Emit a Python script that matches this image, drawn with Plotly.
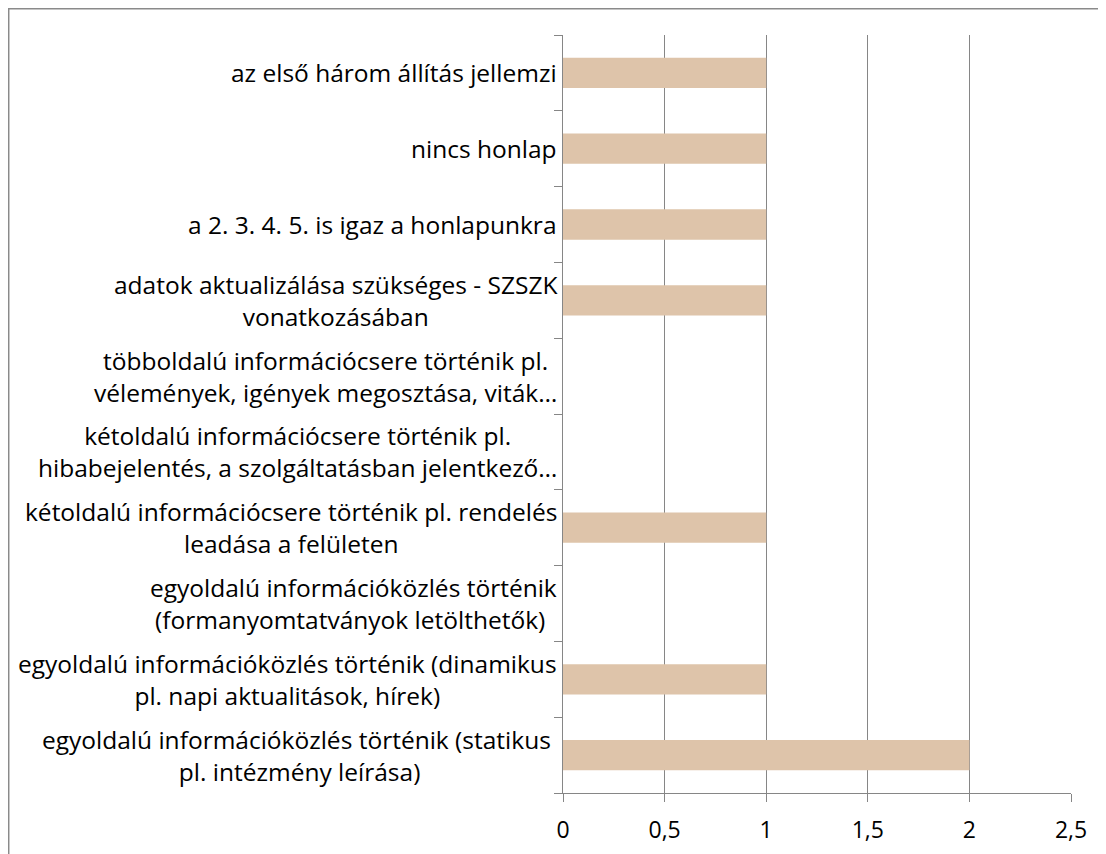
import plotly.graph_objects as go

# Data (bottom to top, as in the source chart)
categories = [
    "egyoldalú információközlés történik (statikus <br>pl. intézmény leírása)",
    "egyoldalú információközlés történik (dinamikus<br>pl. napi aktualitások, hírek)",
    "egyoldalú információközlés történik<br>(formanyomtatványok letölthetők) ",
    "kétoldalú információcsere történik pl. rendelés<br>leadása a felületen",
    "kétoldalú információcsere történik pl.<br>hibabejelentés, a szolgáltatásban jelentkező…",
    "többoldalú információcsere történik pl.<br>vélemények, igények megosztása, viták…",
    "adatok aktualizálása szükséges - SZSZK<br>vonatkozásában",
    "a 2. 3. 4. 5. is igaz a honlapunkra",
    "nincs honlap",
    "az első három állítás jellemzi",
]
values = [2, 1, 0, 1, 0, 0, 1, 1, 1, 1]
x_tick_values = [0, 0.5, 1, 1.5, 2, 2.5]

FONT = "'Open Sans', sans-serif"
GRID = "#868686"
BAR = "#DEC4AA"
FS = 24.5
TFS = 23

fig = go.Figure(
    go.Bar(
        x=values,
        y=categories,
        orientation="h",
        marker=dict(color=BAR, line=dict(width=0)),
        hoverinfo="x+y",
    )
)

annotations = []
for cat in categories:
    annotations.append(
        dict(
            x=0, xref="paper", y=cat, yref="y",
            xanchor="right", yanchor="middle", xshift=-4,
            text=cat, align="center", showarrow=False,
            font=dict(family=FONT, size=FS, color="#000000"),
        )
    )

fig.update_layout(
    width=1106, height=854,
    margin=dict(l=555, r=43, t=27, b=69),
    paper_bgcolor="white", plot_bgcolor="white",
    separators=", ",
    bargap=0.6,
    showlegend=False,
    font=dict(family=FONT, size=FS, color="#000000"),
    annotations=annotations,
    shapes=[dict(
        type="rect", xref="paper", yref="paper",
        x0=-1.0911, x1=1.2, y0=-0.2, y1=1.0346,
        line=dict(color="#8a8a8a", width=1.5), fillcolor="rgba(0,0,0,0)",
        layer="below",
    )],
    xaxis=dict(
        range=[0, 2.5], tickvals=x_tick_values,
        showgrid=True, gridcolor=GRID, gridwidth=1,
        showline=True, linecolor=GRID, linewidth=1,
        ticks="outside", ticklen=8, tickcolor=GRID,
        ticklabelstandoff=8,
        zeroline=False, fixedrange=True,
        tickfont=dict(family=FONT, size=TFS, color="#000000"),
    ),
    yaxis=dict(
        showgrid=False, showline=True, linecolor=GRID, linewidth=1,
        ticks="outside", ticklen=8, tickcolor=GRID, tickson="boundaries",
        showticklabels=False, zeroline=False, fixedrange=True,
    ),
)

fig.write_html("out.html")
